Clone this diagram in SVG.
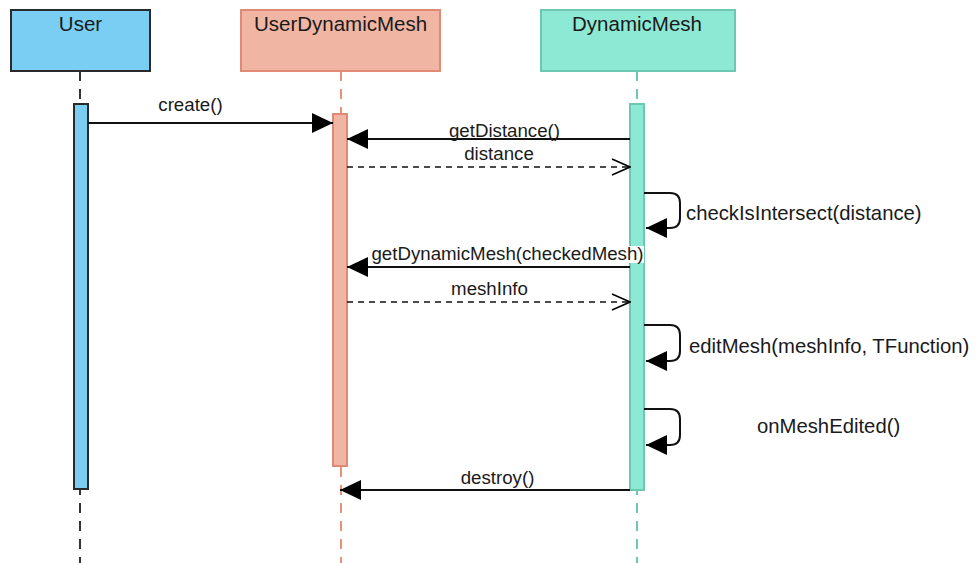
<svg xmlns="http://www.w3.org/2000/svg" width="979" height="563" viewBox="0 0 979 563">
  <defs>
    <marker id="solid" markerWidth="22" markerHeight="22" refX="21" refY="11" orient="auto" markerUnits="userSpaceOnUse">
      <path d="M0,1 L21,11 L0,21 Z" fill="#000"/>
    </marker>
    <marker id="open" markerWidth="20" markerHeight="20" refX="19" refY="10" orient="auto" markerUnits="userSpaceOnUse">
      <path d="M1,2 L19,10 L1,18" fill="none" stroke="#000" stroke-width="1.5"/>
    </marker>
  </defs>
  <style>
    text { font-family: "Liberation Sans", Arial, sans-serif; fill: #1a1a1a; }
    .title { font-size: 20.5px; text-anchor: middle; }
    .lbl { font-size: 18.7px; }
    .self { font-size: 20.3px; }
    .mid { text-anchor: middle; }
    .msg { fill: none; stroke: #111; stroke-width: 2; }
    .ret { fill: none; stroke: #111; stroke-width: 1.5; stroke-dasharray: 6 5; }
    .lbg { fill: #fff; }
  </style>
  <rect width="979" height="563" fill="#fff"/>

  <g id="user">
    <rect x="11" y="10" width="139" height="61" fill="#7ACEF4" stroke="#2a2a2a" stroke-width="2"/>
    <text class="title" x="80.5" y="31">User</text>
    <line x1="80" y1="71" x2="80" y2="563" stroke="#333" stroke-width="2" stroke-dasharray="10 8"/>
    <rect x="74" y="104" width="14" height="385" fill="#7ACEF4" stroke="#2a2a2a" stroke-width="2"/>
  </g>

  <g id="userDynamicMesh">
    <rect x="241" y="10" width="199" height="61" fill="#F0B5A3" stroke="#E08A75" stroke-width="2"/>
    <text class="title" x="340.5" y="31">UserDynamicMesh</text>
    <line x1="341" y1="71" x2="341" y2="563" stroke="#E8907C" stroke-width="2" stroke-dasharray="10 8"/>
    <rect x="333" y="114" width="14" height="352" fill="#F0B5A3" stroke="#E08A75" stroke-width="2"/>
  </g>

  <g id="dynamicMesh">
    <rect x="541" y="10" width="194" height="61" fill="#8EE9D4" stroke="#6CC8B0" stroke-width="2"/>
    <text class="title" x="637" y="31">DynamicMesh</text>
    <line x1="637" y1="71" x2="637" y2="563" stroke="#6CC8B0" stroke-width="2" stroke-dasharray="10 8"/>
    <rect x="630" y="104" width="14" height="386" fill="#8EE9D4" stroke="#6CC8B0" stroke-width="2"/>
  </g>

  <g id="connectors">
    <!-- create() -->
    <line class="msg" x1="88" y1="123" x2="333" y2="123" marker-end="url(#solid)"/>
    <text class="lbl mid" x="190.5" y="111">create()</text>

    <!-- getDistance() -->
    <line class="msg" x1="630" y1="139" x2="347" y2="139" marker-end="url(#solid)"/>
    <rect class="lbg" x="448" y="122" width="113" height="16"/>
    <text class="lbl mid" x="504.5" y="137">getDistance()</text>

    <!-- distance -->
    <line class="ret" x1="347" y1="167" x2="630" y2="167" marker-end="url(#open)"/>
    <text class="lbl mid" x="499" y="160">distance</text>

    <!-- checkIsIntersect(distance) -->
    <path class="msg" d="M644,193 H670 Q680,193 680,203 V218 Q680,228 670,228 H646" marker-end="url(#solid)"/>
    <text class="self" x="686" y="220">checkIsIntersect(distance)</text>

    <!-- getDynamicMesh(checkedMesh) -->
    <line class="msg" x1="630" y1="267" x2="347" y2="267" marker-end="url(#solid)"/>
    <rect class="lbg" x="371" y="246" width="273" height="17"/>
    <text class="lbl mid" x="507.5" y="260">getDynamicMesh(checkedMesh)</text>

    <!-- meshInfo -->
    <line class="ret" x1="347" y1="302" x2="630" y2="302" marker-end="url(#open)"/>
    <text class="lbl mid" x="489.5" y="295">meshInfo</text>

    <!-- editMesh(meshInfo, TFunction) -->
    <path class="msg" d="M644,325 H670 Q680,325 680,335 V351 Q680,361 670,361 H646" marker-end="url(#solid)"/>
    <text class="self" x="689" y="353">editMesh(meshInfo, TFunction)</text>

    <!-- onMeshEdited() -->
    <path class="msg" d="M644,409 H670 Q680,409 680,419 V435 Q680,445 670,445 H646" marker-end="url(#solid)"/>
    <text class="self" x="757" y="433">onMeshEdited()</text>

    <!-- destroy() -->
    <line class="msg" x1="630" y1="490" x2="340" y2="490" marker-end="url(#solid)"/>
    <text class="lbl mid" x="497.5" y="484">destroy()</text>
  </g>
</svg>
